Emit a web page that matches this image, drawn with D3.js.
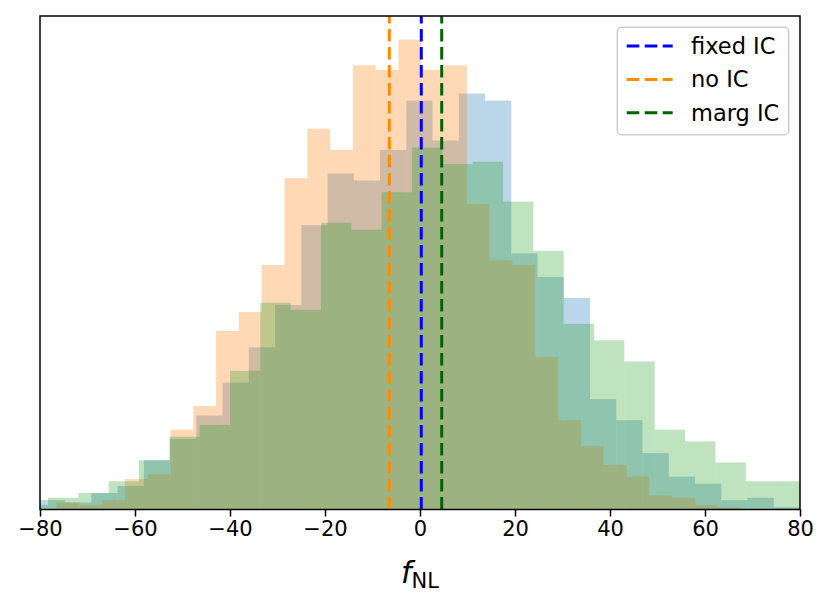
<!DOCTYPE html>
<html>
<head>
<meta charset="utf-8">
<script src="https://cdn.jsdelivr.net/npm/d3@7"></script>
<style>
  body { margin: 0; background: #fff; }
  text { font-family: "DejaVu Sans", sans-serif; }
</style>
</head>
<body>
<div id="hist"></div>
<script>
// histogram bins: first edge, bin width (in f_NL units) and counts
var fixedStart = -80.25, fixedWidth = 5.526;
var fixedCounts = [4, 3, 7, 10, 21, 30, 40, 54, 69, 87, 121, 143, 140, 153, 174, 157, 177, 174,
    109, 99, 90, 47, 38, 24, 14, 11, 4, 5, 1];

var noStart = -76.53, noWidth = 4.8;
var noCounts = [3, 2, 4, 13, 15, 34, 44, 76, 84, 104, 141, 162, 153, 189, 187, 200, 187, 189,
    130, 106, 104, 65, 38, 27, 19, 14, 6, 5, 2, 1];

var margStart = -84.7, margWidth = 6.386;
var margCounts = [2, 5, 7, 12, 21, 31, 36, 59, 88, 85, 122, 119, 135, 154, 147, 148, 131, 110,
    79, 72, 63, 34, 29, 20, 12, 12];

// means drawn as dashed lines
var means = [0.27, -6.46, 4.57];
var labels = ["fixed IC", "no IC", "marg IC"];
var lineColors = ["blue", "darkorange", "darkgreen"];
var histColors = ["#1f77b4", "#ff7f0e", "#2ca02c"];
var xTicks = [-80, -60, -40, -20, 0, 20, 40, 60, 80];

var margin = {top: 16, right: 31, bottom: 95.5, left: 40},
    width = 831 - margin.left - margin.right,
    height = 605 - margin.top - margin.bottom;

var svg = d3.select("#hist")
    .append("svg")
    .attr("width", width + margin.left + margin.right)
    .attr("height", height + margin.top + margin.bottom)
    .append("g")
    .attr("transform", "translate(" + margin.left + "," + margin.top + ")");

function toBins(start, w, counts) {
    return counts.map(function (c, i) {
        return {x0: start + i * w, x1: start + (i + 1) * w, n: c};
    });
}

var series = [
    toBins(fixedStart, fixedWidth, fixedCounts),
    toBins(noStart, noWidth, noCounts),
    toBins(margStart, margWidth, margCounts)
];

var ymax = d3.max(series, function (s) { return d3.max(s, function (d) { return d.n; }); });

var x = d3.scaleLinear()
    .domain([-80, 80])
    .range([0, width]);

var y = d3.scaleLinear()
    .domain([0, ymax * 1.05])
    .range([height, 0]);

svg.append("clipPath")
    .attr("id", "clip")
    .append("rect")
    .attr("width", width)
    .attr("height", height);

var plot = svg.append("g").attr("clip-path", "url(#clip)");

// bars
series.forEach(function (bins, k) {
    plot.append("g")
        .selectAll("rect")
        .data(bins)
        .enter()
        .append("rect")
        .attr("x", function (d) { return x(d.x0); })
        .attr("width", function (d) { return x(d.x1) - x(d.x0); })
        .attr("y", function (d) { return y(d.n); })
        .attr("height", function (d) { return y(0) - y(d.n); })
        .style("fill", histColors[k])
        .style("fill-opacity", 0.3);
});

// vertical dashed lines, drawn from the bottom up
plot.append("g")
    .selectAll("line")
    .data(means)
    .enter()
    .append("line")
    .attr("x1", function (d) { return x(d); })
    .attr("x2", function (d) { return x(d); })
    .attr("y1", y(0))
    .attr("y2", 0)
    .style("stroke", function (d, i) { return lineColors[i]; })
    .style("stroke-width", 3)
    .style("stroke-dasharray", "12.6,5.4");

// x axis
var xAxis = svg.append("g")
    .attr("transform", "translate(0," + height + ")")
    .call(d3.axisBottom(x).tickValues(xTicks).tickSize(7).tickPadding(5));
xAxis.select(".domain").remove();
xAxis.selectAll(".tick line").style("stroke", "#000").style("stroke-width", 1.5);
xAxis.selectAll(".tick text")
    .style("font-family", "DejaVu Sans")
    .style("font-size", "21px")
    .style("fill", "#000");

// frame
svg.append("rect")
    .attr("width", width)
    .attr("height", height)
    .style("fill", "none")
    .style("stroke", "#000")
    .style("stroke-width", 1.5);

// x label
var xl = svg.append("text")
    .attr("x", x(0))
    .attr("y", height + 73)
    .attr("text-anchor", "middle")
    .style("font-size", "30px");
xl.append("tspan").style("font-style", "italic").text("f");
xl.append("tspan")
    .attr("dy", 5)
    .style("font-size", "21px")
    .text("NL");

// legend
var legend = svg.append("g")
    .attr("transform", "translate(" + (width - 182.7) + ",11.3)");
legend.append("rect")
    .attr("width", 171.4)
    .attr("height", 107.4)
    .attr("rx", 4)
    .style("fill", "#fff")
    .style("fill-opacity", 0.8)
    .style("stroke", "#ccc")
    .style("stroke-width", 1.5);

var item = legend.selectAll(".item")
    .data(labels)
    .enter()
    .append("g")
    .attr("transform", function (d, i) { return "translate(0," + (18.7 + i * 33.4) + ")"; });
item.append("line")
    .attr("x1", 9.4)
    .attr("x2", 55.4)
    .style("stroke", function (d, i) { return lineColors[i]; })
    .style("stroke-width", 3)
    .style("stroke-dasharray", "12.6,5.4");
item.append("text")
    .attr("x", 73.7)
    .attr("dy", "0.35em")
    .style("font-size", "22.5px")
    .text(function (d) { return d; });
</script>
</body>
</html>
